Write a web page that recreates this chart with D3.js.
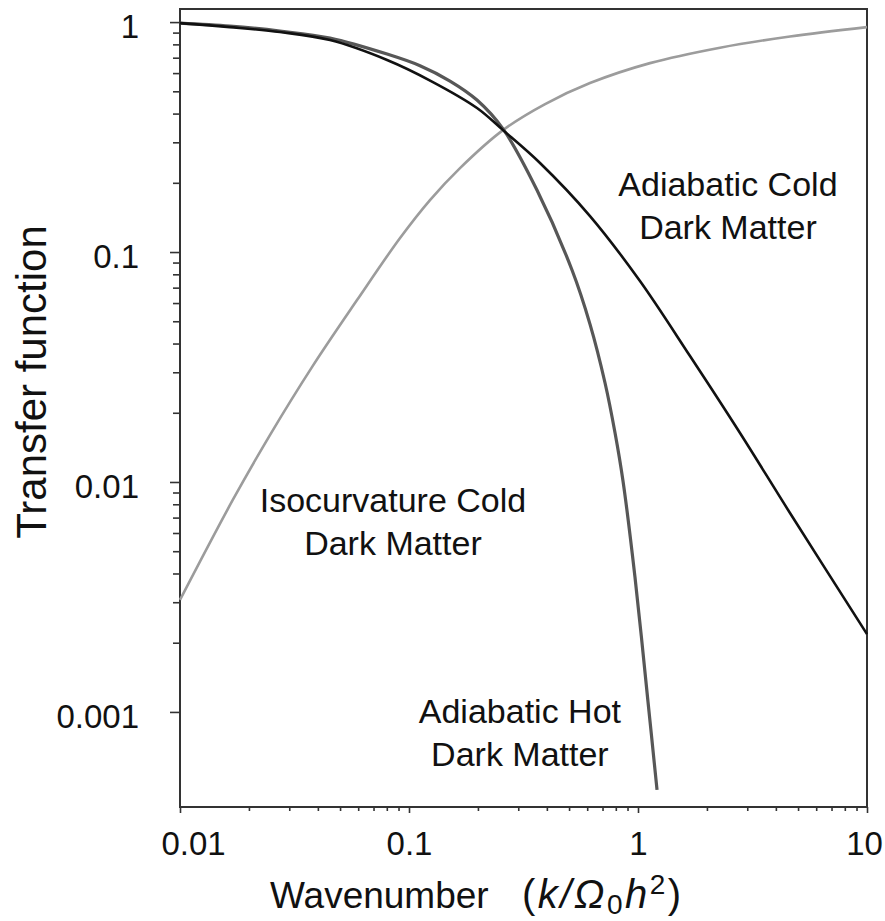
<!DOCTYPE html>
<html><head><meta charset="utf-8">
<script src="https://cdn.jsdelivr.net/npm/d3@7"></script>
<style>
body{margin:0;background:#fff}
svg{display:block;background:#fff}
text{font-family:"Liberation Sans",Arial,sans-serif;fill:#111}
</style>
</head><body>
<svg id="chart" width="885" height="921"></svg>
<script>
// ---- data ----
const kAdiabaticCDM = [0.01, 0.0165, 0.0273, 0.0452, 0.0802, 0.1248, 0.1981, 0.2573, 0.3733, 0.6172, 1.020, 1.687, 2.789, 4.610, 10];
const tAdiabaticCDM = [0.990, 0.951, 0.905, 0.835, 0.684, 0.554, 0.423, 0.339, 0.244, 0.1434, 0.0748, 0.0353, 0.01633, 0.00733, 0.00218];

const kAdiabaticHDM = [0.01, 0.0165, 0.0273, 0.0452, 0.0802, 0.1117, 0.151, 0.1981, 0.2573, 0.362, 0.515, 0.617, 0.718, 0.794, 0.860, 0.970, 1.106, 1.211];
const tAdiabaticHDM = [0.990, 0.961, 0.914, 0.852, 0.726, 0.646, 0.554, 0.458, 0.343, 0.186, 0.0835, 0.0486, 0.02694, 0.01633, 0.01010, 0.00386, 0.001105, 0.000458];

const kIsocurvatureCDM = [0.01, 0.0170, 0.0247, 0.0377, 0.0593, 0.0914, 0.1235, 0.167, 0.2573, 0.393, 0.617, 1.128, 2.281, 4.61, 10];
const tIsocurvatureCDM = [0.00307, 0.00835, 0.0160, 0.0316, 0.0618, 0.1151, 0.1683, 0.2318, 0.339, 0.440, 0.543, 0.663, 0.774, 0.866, 0.951];

const xTickValues = [0.01, 0.1, 1, 10];
const xTickLabels = ["0.01", "0.1", "1", "10"];
const yTickValues = [0.001, 0.01, 0.1, 1];
const yTickLabels = ["0.001", "0.01", "0.1", "1"];
const xDomain = [0.01, 10];
const yDomain = [0.000386, 1.14];

const seriesNames = ["Adiabatic Cold Dark Matter", "Adiabatic Hot Dark Matter", "Isocurvature Cold Dark Matter"];
const seriesColors = ["#111111", "#575757", "#9c9c9c"];
const annotationLines = [["Adiabatic Cold", "Dark Matter"], ["Adiabatic Hot", "Dark Matter"], ["Isocurvature Cold", "Dark Matter"]];
const annotationK = [2.47, 0.305, 0.0851];
const annotationT = [0.175, 0.000896, 0.00741];

const xTitle = "Wavenumber";
const yTitle = "Transfer function";

// ---- layout ----
const W = 885, H = 921;
const margin = {left: 180, right: 18, top: 9, bottom: 114};
const svg = d3.select("#chart");

const x = d3.scaleLog().domain(xDomain).range([margin.left, W - margin.right]);
const y = d3.scaleLog().domain(yDomain).range([H - margin.bottom, margin.top]);

const minorFrom = (decades) => decades.flatMap(d => d3.range(2, 10).map(m => d * m));
const xMinor = minorFrom([0.01, 0.1, 1]);
const yMinor = minorFrom([0.001, 0.01, 0.1]);

const axisColor = "#333";

// minor ticks
svg.append("g").attr("transform", `translate(0,${H - margin.bottom})`)
  .call(d3.axisBottom(x).tickValues(xMinor).tickSize(4).tickFormat(""))
  .call(g => g.select(".domain").remove());
svg.append("g").attr("transform", `translate(${margin.left},0)`)
  .call(d3.axisLeft(y).tickValues(yMinor).tickSize(7).tickFormat(""))
  .call(g => g.select(".domain").remove());

// major ticks
const xAxisG = svg.append("g").attr("transform", `translate(0,${H - margin.bottom})`)
  .call(d3.axisBottom(x).tickValues(xTickValues).tickSize(6).tickPadding(19)
    .tickFormat((d, i) => xTickLabels[i]))
  .call(g => g.select(".domain").remove());
xAxisG.selectAll("text").attr("font-size", 33).attr("fill", "#111")
  .attr("dx", (d, i) => i === 0 ? 13 : (i === xTickValues.length - 1 ? -3 : 0));

const yAxisG = svg.append("g").attr("transform", `translate(${margin.left},0)`)
  .call(d3.axisLeft(y).tickValues(yTickValues).tickSize(10).tickPadding(31)
    .tickFormat((d, i) => yTickLabels[i]))
  .call(g => g.select(".domain").remove());
yAxisG.selectAll("text").attr("font-size", 33).attr("fill", "#111").attr("dy", "0.47em");

svg.selectAll(".tick line").attr("stroke", axisColor).attr("stroke-width", 1.6);

// frame
svg.append("rect")
  .attr("x", margin.left).attr("y", margin.top)
  .attr("width", W - margin.left - margin.right)
  .attr("height", H - margin.top - margin.bottom)
  .attr("fill", "none").attr("stroke", axisColor).attr("stroke-width", 2);

// curves
const seriesK = [kAdiabaticCDM, kAdiabaticHDM, kIsocurvatureCDM];
const seriesT = [tAdiabaticCDM, tAdiabaticHDM, tIsocurvatureCDM];
const seriesWidth = [2.6, 3.2, 2.6];
const line = d3.line().x(d => x(d[0])).y(d => y(d[1])).curve(d3.curveCatmullRom.alpha(0.5));
const drawOrder = [2, 1, 0];
drawOrder.forEach(i => {
  svg.append("path")
    .datum(d3.zip(seriesK[i], seriesT[i]))
    .attr("d", line)
    .attr("fill", "none")
    .attr("stroke", seriesColors[i])
    .attr("stroke-width", seriesWidth[i])
    .attr("stroke-linejoin", "round")
    .append("title").text(seriesNames[i]);
});

// annotations
annotationLines.forEach((lines, i) => {
  const t = svg.append("text")
    .attr("x", x(annotationK[i])).attr("y", y(annotationT[i]))
    .attr("text-anchor", "middle").attr("font-size", 34);
  lines.forEach((s, j) => {
    t.append("tspan").attr("x", x(annotationK[i])).attr("dy", j === 0 ? 0 : 43).text(s);
  });
});

// axis titles
svg.append("text")
  .attr("transform", `translate(46,382) rotate(-90)`)
  .attr("text-anchor", "middle").attr("font-size", 42)
  .text(yTitle);

svg.append("text")
  .attr("x", 270).attr("y", 908).attr("font-size", 37)
  .text(xTitle);

const f = svg.append("text").attr("x", 522).attr("y", 908).attr("font-size", 40)
  .attr("letter-spacing", 2.5);
f.append("tspan").text("(");
f.append("tspan").attr("font-style", "italic").text("k/Ω");
f.append("tspan").attr("font-size", 28).attr("dy", 6).text("0");
f.append("tspan").attr("font-style", "italic").attr("dy", -6).text("h");
f.append("tspan").attr("font-size", 28).attr("dy", -14).text("2");
f.append("tspan").attr("dy", 14).text(")");
</script>
</body></html>
